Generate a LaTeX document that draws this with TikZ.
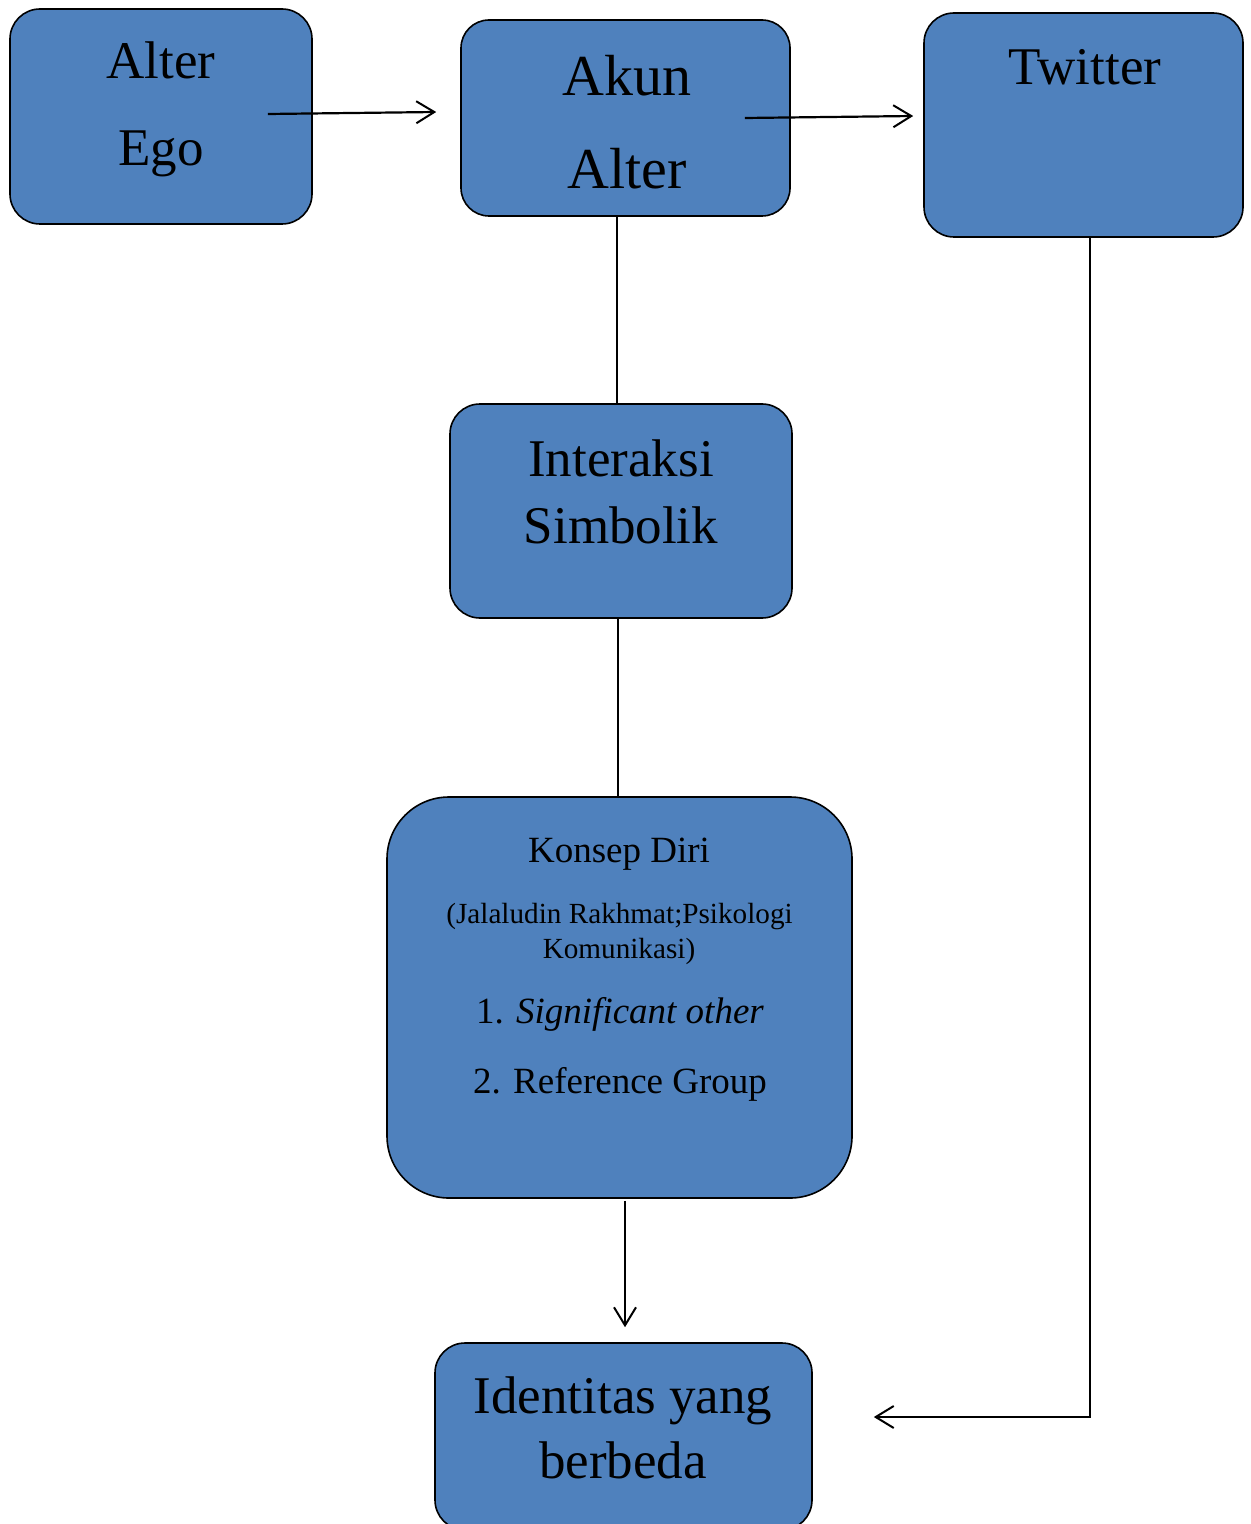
\documentclass[tikz,border=0pt]{standalone}
\usepackage{fontspec}
\setmainfont{Liberation Serif}
\usetikzlibrary{arrows.meta,positioning}
\definecolor{boxblue}{HTML}{4F81BD}

\begin{document}
\begin{tikzpicture}[
  x=0.5pt,
  y=-0.5pt,
  card/.style={rectangle, rounded corners=15pt, draw=black, fill=boxblue, line width=0.8pt, inner sep=0pt},
  bigtext/.style={anchor=base, inner sep=0pt, font=\fontsize{26.5}{30}\selectfont},
  midtext/.style={anchor=base, inner sep=0pt, font=\fontsize{18.5}{22}\selectfont},
  smalltext/.style={anchor=base, inner sep=0pt, font=\fontsize{14.6}{17}\selectfont},
  link/.style={line width=0.8pt},
  flow/.style={-{Straight Barb[length=9pt, width=11pt, line width=1pt]}, line width=1.1pt}
]
\useasboundingbox (0,0) rectangle (1251,1524);

\node[card, minimum width=151pt, minimum height=107.5pt] (alterego) at (161,116.5) {};
\node[bigtext] (alterword) at (161,79) {Alter};
\node[bigtext] (egoword) at (161,166) {Ego};

\node[card, rounded corners=14pt, minimum width=164.5pt, minimum height=98pt] (akun) at (625.5,118) {};
\node[bigtext, font=\fontsize{29}{33}\selectfont] (akunword) at (627,96) {Akun};
\node[bigtext, font=\fontsize{29}{33}\selectfont] (akunalter) at (627,189) {Alter};

\node[card, minimum width=159.5pt, minimum height=112pt] (twitter) at (1083.5,125) {};
\node[bigtext] (twitterword) at (1085,85) {Twitter};

\node[card, minimum width=171pt, minimum height=107pt] (interaksi) at (621,511) {};
\node[bigtext] (interaksiword) at (621,476) {Interaksi};
\node[bigtext] (simbolikword) at (621,543) {Simbolik};

\node[card, rounded corners=31pt, minimum width=232.5pt, minimum height=200.5pt] (konsep) at (619.5,997.5) {};
\node[midtext] (konseptitle) at (619,862) {Konsep Diri};
\node[smalltext] (konsepref) at (619.5,923) {(Jalaludin Rakhmat;Psikologi};
\node[smalltext] (konsepsrc) at (619,958) {Komunikasi)};
\node[midtext] (itemone) at (620,1023) {1. \textit{Significant other}};
\node[midtext] (itemtwo) at (620,1093) {2. Reference Group};

\node[card, minimum width=188.5pt, minimum height=93.5pt] (identitas) at (623.5,1436.5) {};
\node[bigtext] (identitasword) at (623,1413) {Identitas yang};
\node[bigtext] (berbedaword) at (623,1478) {berbeda};

\draw[flow] ([xshift=-22.5pt,yshift=1.25pt]alterego.east) -- ([xshift=-12pt,yshift=3pt]akun.west);
\draw[flow] ([xshift=-23pt]akun.east) -- ([xshift=-5pt,yshift=4.5pt]twitter.west);
\draw[link] ([xshift=-4.25pt]akun.south) -- ([xshift=-2pt]interaksi.north);
\draw[link] ([xshift=-1.5pt]interaksi.south) -- ([xshift=-0.75pt]konsep.north);
\draw[flow] ([xshift=2.75pt,yshift=-1pt]konsep.south) -- ([xshift=0.75pt,yshift=7.5pt]identitas.north);
\draw[flow] ([xshift=3.25pt]twitter.south) |- ([xshift=30.5pt,yshift=9.75pt]identitas.east);

\end{tikzpicture}
\end{document}
